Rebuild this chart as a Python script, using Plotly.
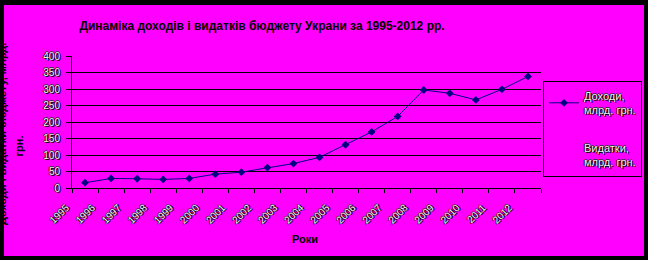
import plotly.graph_objects as go

years = ["1995", "1996", "1997", "1998", "1999", "2000", "2001", "2002", "2003",
         "2004", "2005", "2006", "2007", "2008", "2009", "2010", "2011", "2012"]
revenues = [16, 29, 28, 26, 29, 42, 48, 62, 74, 93, 131, 170, 217, 297, 287, 267, 299, 338]
expenditures = [None, None, None, None, None, None, None, None, None,
                None, None, None, None, None, None, None, None, None]

series_names = ["Доходи,<br>млрд. грн.", "Видатки,<br>млрд. грн."]
title_text = "Динаміка доходів і видатків бюджету Украни за 1995-2012 рр."
x_title = "Роки"
y_title_main = "грн."
y_title_clipped = "Доходи і видатки бюджету, млрд."

FONT = "Arial, Liberation Sans, sans-serif"
MAGENTA = "#FF00FF"
NAVY = "#000080"
OUTLINE = "1px 1px 0px #000000, -1px 0px 0px #000000, 0px -1px 0px #333333"

fig = go.Figure()
fig.add_trace(go.Scatter(
    x=years, y=revenues, name=series_names[0], mode="lines+markers",
    line=dict(color=NAVY, width=1),
    marker=dict(symbol="diamond", size=6, color=NAVY),
    legendgroup="a",
))
fig.add_trace(go.Scatter(
    x=years, y=expenditures, name=series_names[1], mode="lines",
    line=dict(color="rgba(0,0,0,0)", width=1),
    legendgroup="b", yaxis="y2",
))

L, R, T, B = 72, 107, 56, 72
W, H = 648, 260
pw, ph = W - L - R, H - T - B

def px(xp):
    return (xp - L) / pw

def py(yp):
    return (H - B - yp) / ph

fig.update_layout(
    width=W, height=H,
    margin=dict(l=L, r=R, t=T, b=B, pad=0, autoexpand=False),
    paper_bgcolor="#000000",
    plot_bgcolor=MAGENTA,
    font=dict(family=FONT, size=10, color="#000000"),
    title=dict(text="<b>" + title_text + "</b>", x=262 / W, xanchor="center",
               y=1 - 26 / H, yanchor="middle", xref="container", yref="container",
               font=dict(family=FONT, size=12, color="#000000")),
    showlegend=True,
    legend=dict(xref="container", yref="container",
                x=543 / W, xanchor="left", y=1 - 81 / H, yanchor="top",
                bordercolor="#000000", borderwidth=1, bgcolor="rgba(0,0,0,0)",
                font=dict(family=FONT, size=11, color="#EEEEEE", shadow=OUTLINE),
                tracegroupgap=20, itemwidth=30),
    xaxis=dict(type="category", range=[-0.5, 17.5], showgrid=False,
               showline=True, linecolor="#000000", linewidth=1,
               ticks="outside", tickson="boundaries", ticklen=4,
               tickcolor="#000000", tickangle=-45,
               tickfont=dict(family=FONT, size=10, color="#EEEEEE", shadow=OUTLINE),
               ticklabelshift=-19, ticklabelstandoff=9,
               zeroline=False),
    yaxis=dict(range=[0, 400], dtick=50, showgrid=False,
               showline=True, linecolor="#000000", linewidth=1,
               ticks="outside", ticklen=5, tickcolor="#000000",
               tickfont=dict(family=FONT, size=10, color="#EEEEEE", shadow=OUTLINE),
               ticklabelstandoff=4, zeroline=False),
    yaxis2=dict(range=[0, 400], overlaying="y", side="left",
                tickvals=[50, 100, 150, 200, 250, 300, 350],
                showgrid=True, gridcolor="#000000", gridwidth=1,
                showticklabels=False, ticks="", showline=False, zeroline=False),
    shapes=[dict(type="rect", xref="paper", yref="paper",
                 x0=px(4), x1=px(644), y0=py(256), y1=py(5),
                 fillcolor=MAGENTA, line=dict(width=0), layer="below")],
    annotations=[
        dict(text="<b>" + x_title + "</b>", xref="paper", yref="paper",
             x=px(305), y=py(239), showarrow=False, xanchor="center", yanchor="middle",
             font=dict(family=FONT, size=11, color="#000000")),
        dict(text="<b>" + y_title_main + "</b>", xref="paper", yref="paper",
             x=px(18.5), y=py(146), showarrow=False, textangle=-90,
             xanchor="center", yanchor="middle",
             font=dict(family=FONT, size=11, color="#000000")),
        dict(text="<b>" + y_title_clipped + "</b>", xref="paper", yref="paper",
             x=px(2), y=py(134), showarrow=False, textangle=-90,
             xanchor="center", yanchor="middle",
             font=dict(family=FONT, size=11, color="#000000")),
    ],
)

fig.write_html("out.html")
